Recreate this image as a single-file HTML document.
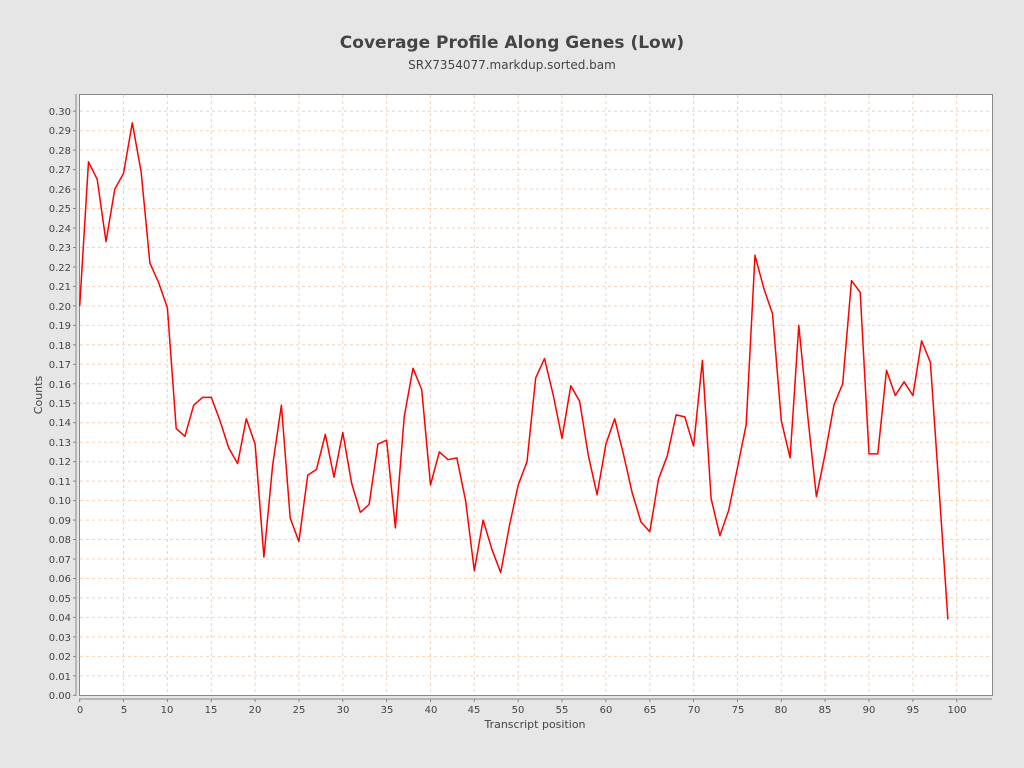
<!DOCTYPE html>
<html><head><meta charset="utf-8"><style>
body{margin:0;background:#e6e6e6;}
svg{display:block;font-family:"DejaVu Sans","Liberation Sans",sans-serif;}
</style></head><body>
<svg id="s" width="1024" height="768" xmlns="http://www.w3.org/2000/svg">
<rect width="1024" height="768" fill="#e6e6e6"/>
<text x="512" y="48" text-anchor="middle" font-size="17" font-weight="bold" fill="#444">Coverage Profile Along Genes (Low)</text>
<text x="512" y="69" text-anchor="middle" font-size="12" fill="#444">SRX7354077.markdup.sorted.bam</text>
<rect x="79.5" y="94.5" width="913" height="601" fill="#fff" stroke="#888"/>
<g id="grid"></g>
<line x1="76" y1="94" x2="76" y2="696" stroke="#888"/>
<line x1="79" y1="699" x2="992" y2="699" stroke="#888"/>
<g id="ticks" stroke="#888"></g>
<g font-size="10" fill="#444" text-anchor="end">
<text x="71" y="699">0.00</text><text x="71" y="680">0.01</text><text x="71" y="660">0.02</text><text x="71" y="641">0.03</text><text x="71" y="621">0.04</text><text x="71" y="602">0.05</text><text x="71" y="582">0.06</text><text x="71" y="563">0.07</text><text x="71" y="543">0.08</text><text x="71" y="524">0.09</text><text x="71" y="504">0.10</text><text x="71" y="485">0.11</text><text x="71" y="465">0.12</text><text x="71" y="446">0.13</text><text x="71" y="426">0.14</text><text x="71" y="407">0.15</text><text x="71" y="388">0.16</text><text x="71" y="368">0.17</text><text x="71" y="349">0.18</text><text x="71" y="329">0.19</text><text x="71" y="310">0.20</text><text x="71" y="290">0.21</text><text x="71" y="271">0.22</text><text x="71" y="251">0.23</text><text x="71" y="232">0.24</text><text x="71" y="212">0.25</text><text x="71" y="193">0.26</text><text x="71" y="173">0.27</text><text x="71" y="154">0.28</text><text x="71" y="134">0.29</text><text x="71" y="115">0.30</text>
</g>
<g font-size="10" fill="#444" text-anchor="middle">
<text x="80" y="713">0</text><text x="124" y="713">5</text><text x="167" y="713">10</text><text x="211" y="713">15</text><text x="255" y="713">20</text><text x="299" y="713">25</text><text x="343" y="713">30</text><text x="387" y="713">35</text><text x="431" y="713">40</text><text x="474" y="713">45</text><text x="518" y="713">50</text><text x="562" y="713">55</text><text x="606" y="713">60</text><text x="650" y="713">65</text><text x="694" y="713">70</text><text x="738" y="713">75</text><text x="781" y="713">80</text><text x="825" y="713">85</text><text x="869" y="713">90</text><text x="913" y="713">95</text><text x="957" y="713">100</text>
</g>
<text x="535" y="728" text-anchor="middle" font-size="11" fill="#444">Transcript position</text>
<text transform="translate(42,395) rotate(-90)" text-anchor="middle" font-size="11" fill="#444">Counts</text>
<polyline id="line" fill="none" stroke="#f00" stroke-width="1.5" stroke-linejoin="round"/>
</svg>
<script>
var d=[0.200,0.274,0.265,0.233,0.260,0.268,0.294,0.269,0.222,0.212,0.199,0.137,0.133,0.149,0.153,0.153,0.141,0.127,0.119,0.142,0.129,0.071,0.118,0.149,0.091,0.079,0.113,0.116,0.134,0.112,0.135,0.109,0.094,0.098,0.129,0.131,0.086,0.143,0.168,0.157,0.108,0.125,0.121,0.122,0.100,0.064,0.090,0.075,0.063,0.087,0.108,0.120,0.163,0.173,0.154,0.132,0.159,0.151,0.123,0.103,0.129,0.142,0.124,0.104,0.089,0.084,0.111,0.123,0.144,0.143,0.128,0.172,0.101,0.082,0.095,0.117,0.139,0.226,0.209,0.196,0.141,0.122,0.190,0.144,0.102,0.124,0.149,0.160,0.213,0.207,0.124,0.124,0.167,0.154,0.161,0.154,0.182,0.171,0.105,0.039];
var X=function(i){return 79.7+i*8.77},Y=function(v){return 695.3-v*1947};
document.getElementById('line').setAttribute('points',d.map(function(v,i){return X(i).toFixed(1)+','+Y(v).toFixed(1)}).join(' '));
var g='',t='';
for(var k=1;k<=30;k++){var y=Y(k/100).toFixed(1);g+='<line x1="80" x2="992" y1="'+y+'" y2="'+y+'" stroke="#f4d3b6" stroke-dasharray="3,3"/>';}
for(var k=0;k<=30;k++){var y=Y(k/100).toFixed(1);t+='<line x1="73" x2="76" y1="'+y+'" y2="'+y+'"/>';}
for(var k=5;k<=100;k+=5){var x=X(k).toFixed(1);g+='<line y1="95" y2="695" x1="'+x+'" x2="'+x+'" stroke="#f4d3b6" stroke-dasharray="3,3"/>';}
for(var k=0;k<=100;k+=5){var x=X(k).toFixed(1);t+='<line y1="699" y2="702" x1="'+x+'" x2="'+x+'"/>';}
document.getElementById('grid').innerHTML=g;document.getElementById('ticks').innerHTML=t;
</script>
</body></html>
